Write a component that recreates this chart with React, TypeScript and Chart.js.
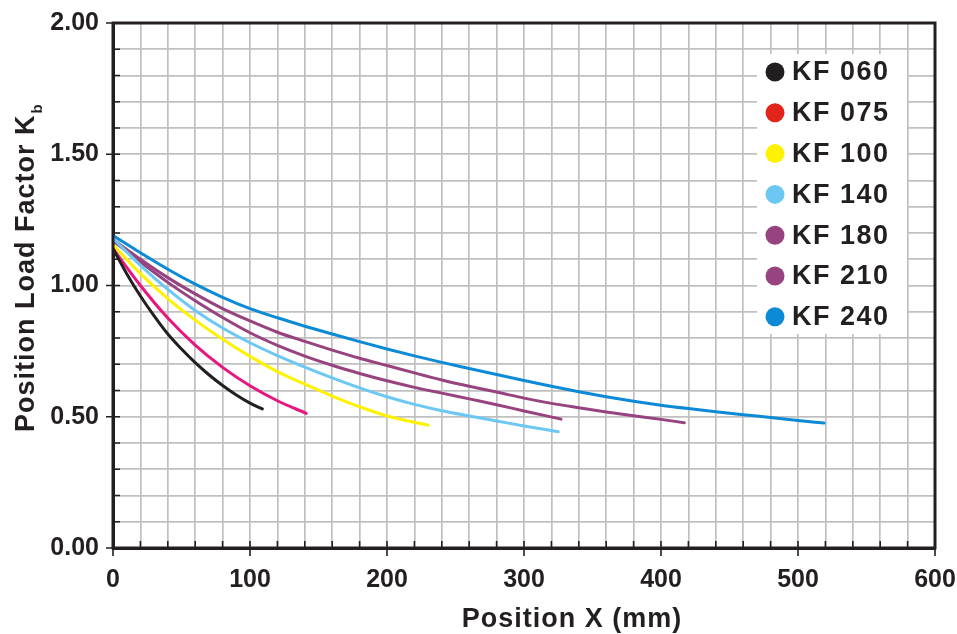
import { useEffect, useRef } from 'react';
import { Chart, registerables } from 'chart.js';

Chart.register(...registerables);

// ---- Data ----
const SERIES_LABELS = ['KF 060', 'KF 075', 'KF 100', 'KF 140', 'KF 180', 'KF 210', 'KF 240'];

// [position X (mm), Kb]
const KF060: [number, number][] = [
  [0, 1.14], [10, 1.045], [20, 0.96], [30, 0.884], [40, 0.815], [50, 0.758], [60, 0.706],
  [70, 0.66], [80, 0.619], [90, 0.583], [100, 0.552], [109, 0.53],
];
const KF075: [number, number][] = [
  [0, 1.14], [20, 1.0], [40, 0.876], [60, 0.773], [80, 0.688], [100, 0.618], [120, 0.561], [141, 0.513],
];
const KF100: [number, number][] = [
  [0, 1.155], [20, 1.045], [40, 0.95], [60, 0.868], [80, 0.795], [100, 0.73], [120, 0.672],
  [140, 0.624], [160, 0.579], [180, 0.538], [200, 0.503], [230, 0.468],
];
const KF140: [number, number][] = [
  [0, 1.18], [20, 1.077], [40, 0.985], [60, 0.905], [80, 0.838], [100, 0.782], [120, 0.733],
  [140, 0.689], [160, 0.648], [180, 0.61], [200, 0.576], [220, 0.547], [240, 0.523],
  [260, 0.503], [280, 0.484], [300, 0.465], [325, 0.443],
];
const KF180: [number, number][] = [
  [0, 1.17], [20, 1.09], [40, 1.012], [60, 0.942], [80, 0.878], [100, 0.82], [120, 0.772],
  [140, 0.731], [160, 0.696], [180, 0.665], [200, 0.637], [220, 0.612], [240, 0.59],
  [260, 0.568], [280, 0.546], [300, 0.522], [327, 0.491],
];
const KF210: [number, number][] = [
  [0, 1.175], [20, 1.1], [40, 1.03], [60, 0.968], [80, 0.912], [100, 0.865], [120, 0.822],
  [140, 0.787], [160, 0.754], [180, 0.723], [200, 0.695], [220, 0.667], [240, 0.64],
  [260, 0.616], [280, 0.594], [300, 0.571], [320, 0.551], [340, 0.534], [360, 0.518],
  [380, 0.504], [400, 0.49], [417, 0.477],
];
const KF240: [number, number][] = [
  [0, 1.19], [20, 1.125], [40, 1.062], [60, 1.005], [80, 0.955], [100, 0.912], [120, 0.877],
  [140, 0.845], [160, 0.815], [180, 0.786], [200, 0.758], [220, 0.732], [240, 0.707],
  [260, 0.684], [280, 0.661], [300, 0.638], [320, 0.616], [340, 0.595], [360, 0.576],
  [380, 0.559], [400, 0.544], [420, 0.531], [440, 0.519], [460, 0.508], [480, 0.497],
  [500, 0.486], [519, 0.476],
];
const SERIES = [KF060, KF075, KF100, KF140, KF180, KF210, KF240];

const X_TICK_LABELS = ['0', '100', '200', '300', '400', '500', '600'];
const Y_TICK_LABELS = ['0.00', '0.50', '1.00', '1.50', '2.00'];
const X_TITLE = 'Position X (mm)';
const Y_TITLE = 'Position Load Factor K';
const Y_TITLE_SUB = 'b';

// ---- Styles ----
const LINE_COLORS = ['#231f20', '#e6177f', '#fff200', '#6cc8f2', '#97437f', '#97437f', '#0c8ad6'];
const LEGEND_COLORS = ['#231f20', '#e1251b', '#fff200', '#6cc8f2', '#97437f', '#97437f', '#0c8ad6'];
const FONT = "'Liberation Sans', Arial, sans-serif";
const TEXT = '#231f20';

const zeroPadding = (s: any) => {
  s.paddingLeft = 0;
  s.paddingRight = 0;
  s.paddingTop = 0;
  s.paddingBottom = 0;
};

const overlayPlugin = {
  id: 'overlay',
  afterDraw(chart: any) {
    const { ctx, chartArea: a, scales } = chart;
    const xs = scales.x;
    const ys = scales.y;
    ctx.save();

    // tick marks
    ctx.strokeStyle = TEXT;
    ctx.lineWidth = 1.6;
    ctx.beginPath();
    xs.ticks.forEach((t: any) => {
      const px = xs.getPixelForValue(t.value);
      ctx.moveTo(px, a.bottom);
      ctx.lineTo(px, a.bottom - 7);
      if (t.label !== '') {
        ctx.moveTo(px, a.bottom);
        ctx.lineTo(px, a.bottom + 8);
      }
    });
    ys.ticks.forEach((t: any) => {
      const py = ys.getPixelForValue(t.value);
      ctx.moveTo(a.left, py);
      ctx.lineTo(a.left + 7, py);
      if (t.label !== '') {
        ctx.moveTo(a.left, py);
        ctx.lineTo(a.left - 7, py);
      }
    });
    ctx.stroke();

    // frame
    ctx.lineWidth = 3;
    ctx.strokeStyle = TEXT;
    ctx.strokeRect(a.left, a.top, a.right - a.left, a.bottom - a.top);

    // legend box
    const bx = a.right - 178;
    const by = a.top + 31;
    const bw = 150;
    const bh = 280;
    ctx.fillStyle = '#ffffff';
    ctx.fillRect(bx, by, bw, bh);
    (ctx as any).letterSpacing = '1.5px';
    ctx.font = `bold 27px ${FONT}`;
    ctx.textAlign = 'left';
    ctx.textBaseline = 'middle';
    chart.data.datasets.forEach((ds: any, i: number) => {
      const cy = by + 18 + i * 40.8;
      ctx.beginPath();
      ctx.fillStyle = LEGEND_COLORS[i];
      ctx.arc(bx + 18, cy, 9.5, 0, Math.PI * 2);
      ctx.fill();
      ctx.fillStyle = TEXT;
      ctx.fillText(ds.label, bx + 35, cy + 1);
    });

    // axis titles
    (ctx as any).letterSpacing = '1px';
    ctx.font = `bold 27px ${FONT}`;
    ctx.fillStyle = TEXT;
    ctx.textBaseline = 'alphabetic';
    ctx.textAlign = 'center';
    ctx.fillText(X_TITLE, 572, chart.height - 7);

    ctx.save();
    ctx.translate(a.left - 79, a.bottom - 116);
    ctx.rotate(-Math.PI / 2);
    ctx.textAlign = 'left';
    ctx.fillText(Y_TITLE, 0, 0);
    const w = ctx.measureText(Y_TITLE).width;
    ctx.font = `bold 15px ${FONT}`;
    (ctx as any).letterSpacing = '0px';
    ctx.fillText(Y_TITLE_SUB, w + 1, 8);
    ctx.restore();

    ctx.restore();
  },
};

export default function App() {
  const canvasRef = useRef<HTMLCanvasElement | null>(null);

  useEffect(() => {
    document.body.style.margin = '0';
    const canvas = canvasRef.current;
    if (!canvas) return;

    const chart = new Chart(canvas, {
      type: 'line',
      data: {
        datasets: SERIES.map((pts, i) => ({
          label: SERIES_LABELS[i],
          data: pts.map(([x, y]) => ({ x, y })),
          borderColor: LINE_COLORS[i],
          backgroundColor: LINE_COLORS[i],
          borderWidth: 3,
          pointRadius: 0,
          fill: false,
          tension: 0.4,
          cubicInterpolationMode: 'monotone' as const,
          borderCapStyle: 'round' as const,
        })),
      },
      options: {
        animation: false,
        responsive: true,
        maintainAspectRatio: false,
        layout: { padding: { left: 0, right: 22, top: 23, bottom: 0 } },
        plugins: {
          legend: { display: false },
          tooltip: { enabled: false },
        },
        scales: {
          x: {
            type: 'linear',
            min: 0,
            max: 600,
            afterFit: (s: any) => { s.height = 86; zeroPadding(s); },
            ticks: {
              stepSize: 20,
              autoSkip: false,
              maxRotation: 0,
              padding: 17,
              color: TEXT,
              font: { family: FONT, size: 25, weight: 'bold' },
              callback: (v: any) => (Number(v) % 100 === 0 ? X_TICK_LABELS[Number(v) / 100] : ''),
            },
            grid: { color: '#c0c0c0', lineWidth: 1.7, drawTicks: false },
            border: { display: true, color: TEXT, width: 3 },
          },
          y: {
            type: 'linear',
            min: 0,
            max: 2,
            afterFit: (s: any) => { s.width = 113; zeroPadding(s); },
            ticks: {
              stepSize: 0.1,
              autoSkip: false,
              padding: 14,
              color: TEXT,
              font: { family: FONT, size: 25, weight: 'bold' },
              callback: (v: any, idx: number) => (idx % 5 === 0 ? Y_TICK_LABELS[idx / 5] : ''),
            },
            grid: { color: '#c0c0c0', lineWidth: 1.7, drawTicks: false },
            border: { display: true, color: TEXT, width: 3 },
          },
        },
      },
      plugins: [overlayPlugin],
    });

    return () => chart.destroy();
  }, []);

  return (
    <div style={{ position: 'relative', width: '957px', height: '634px', background: '#ffffff' }}>
      <canvas ref={canvasRef} />
    </div>
  );
}
